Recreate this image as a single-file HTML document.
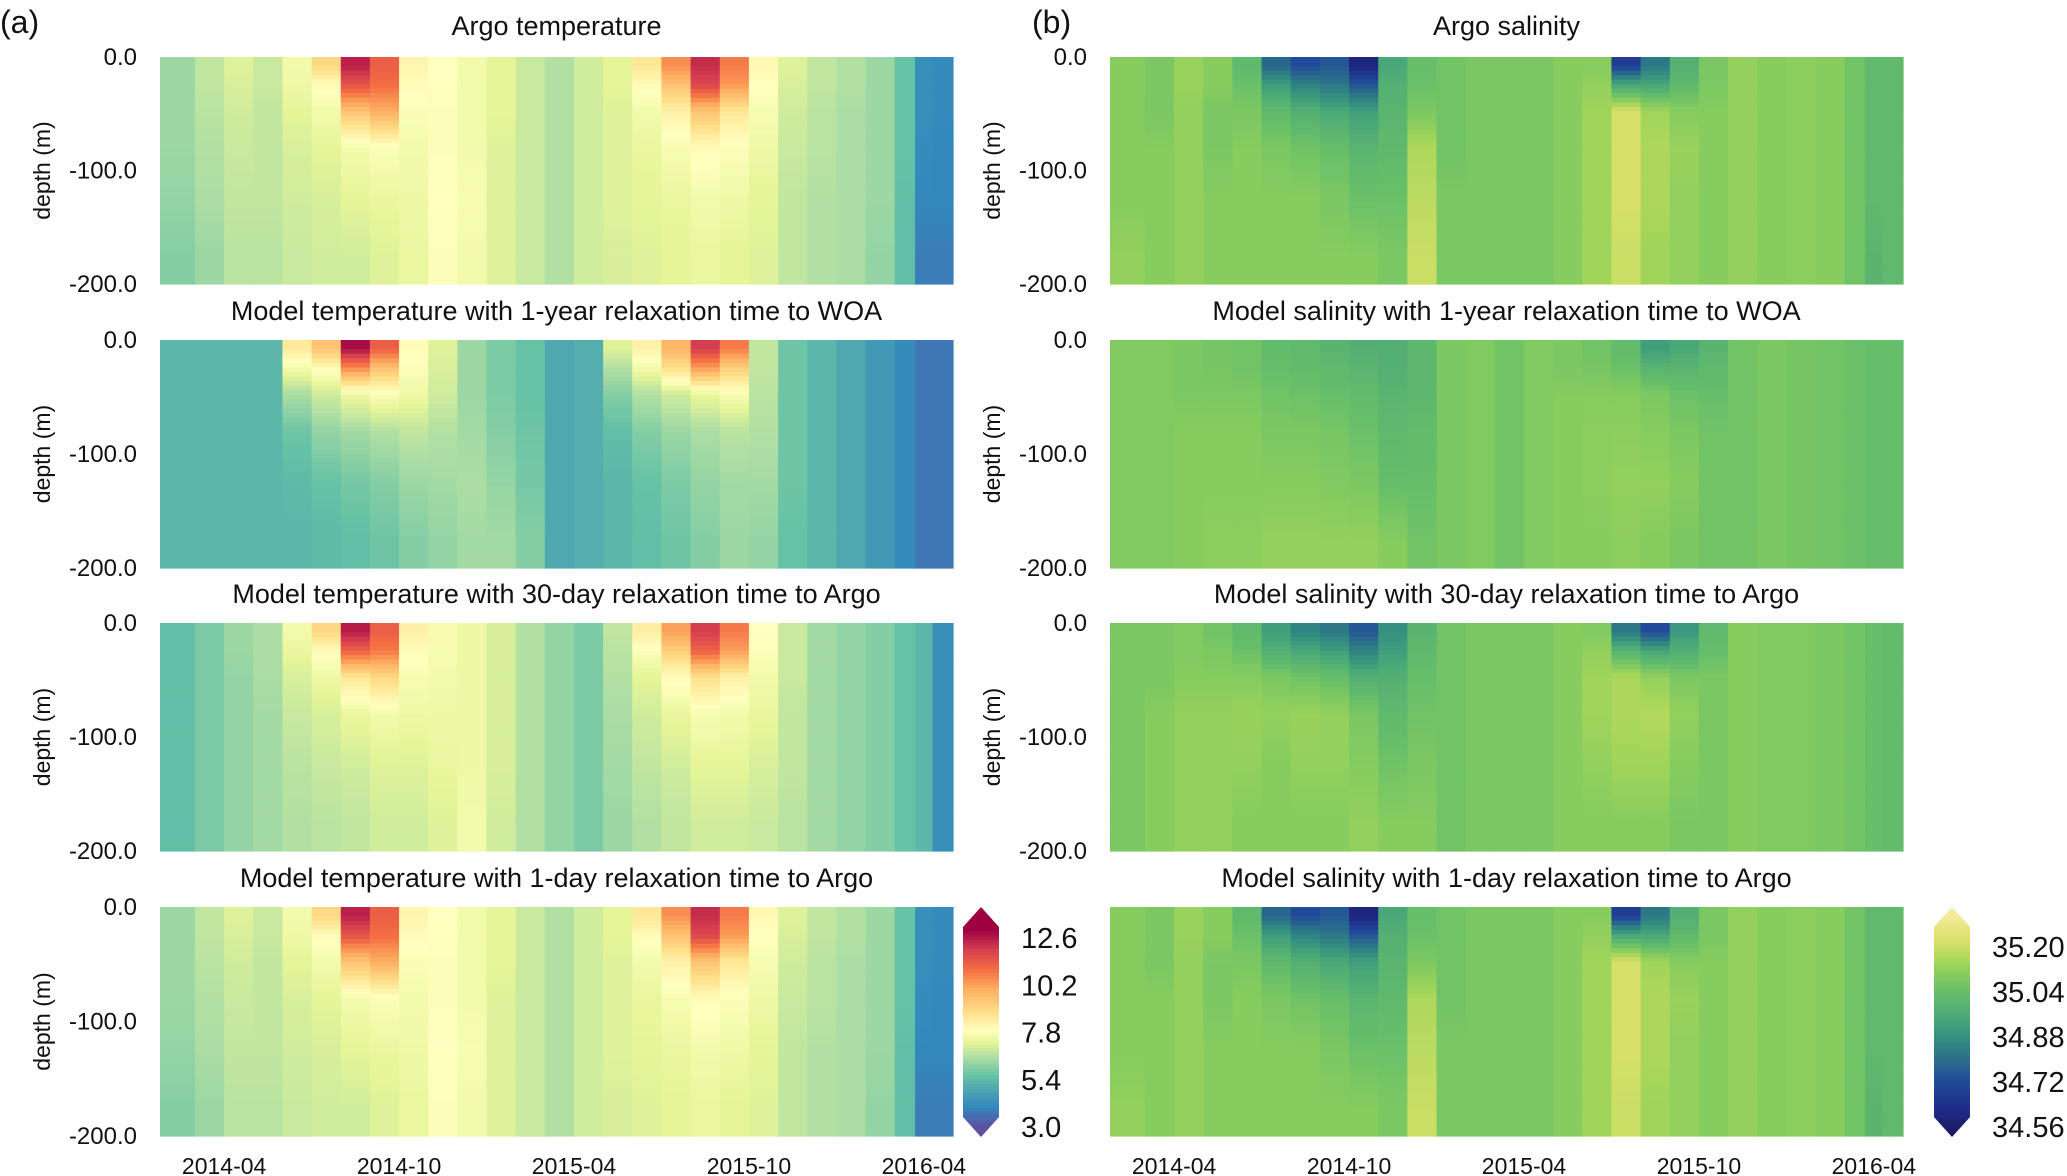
<!DOCTYPE html>
<html><head><meta charset="utf-8">
<style>
html,body{margin:0;padding:0;background:#fff;}
svg{display:block;font-family:"Liberation Sans",Arial,sans-serif;}
</style></head>
<body>
<svg id="fig" width="2067" height="1176" viewBox="0 0 2067 1176" xmlns="http://www.w3.org/2000/svg"></svg>
<script>
// ---- shared axis data ----
const tEdges = [0.8,2,3,4,5,6,7,8,9,10,11,12,13,14,15,16,17,18,19,20,21,22,23,24,25,26,26.7,27.3,28];
const dEdges = [0,15,35,60,100,150,200];
const xTickLabels = ["2014-04","2014-10","2015-04","2015-10","2016-04"];
const xTickVals = [3,9,15,21,27];
const yTickLabels = ["0.0","-100.0","-200.0"];
const yTickVals = [0,100,200];
const tempCbTicks = [12.6,10.2,7.8,5.4,3.0];
const tempCbLabels = ["12.6","10.2","7.8","5.4","3.0"];
const salCbTicks = [35.20,35.04,34.88,34.72,34.56];
const salCbLabels = ["35.20","35.04","34.88","34.72","34.56"];

// ---- temperature data (columns x depth bins) ----
const tempArgo = [
[6.3,6.3,6.3,6.3,6.2,6.0],[6.8,6.8,6.7,6.6,6.5,6.3],[7.2,7.1,7.0,6.9,6.8,6.7],[6.9,6.9,6.8,6.8,6.8,6.7],
[7.6,7.5,7.3,7.1,7.0,6.9],[9.0,8.0,7.6,7.3,7.1,7.0],[12.5,11.5,9.5,7.6,7.3,7.0],[11.3,11.0,10.0,7.8,7.4,7.2],
[8.2,8.0,7.8,7.6,7.5,7.4],[7.9,7.9,7.8,7.8,7.9,7.8],[7.6,7.6,7.6,7.6,7.7,7.6],[7.3,7.3,7.3,7.2,7.2,7.2],
[6.9,6.9,6.9,6.9,6.9,6.9],[6.6,6.6,6.6,6.6,6.6,6.6],[7.0,7.0,7.0,7.0,7.0,7.0],[7.3,7.3,7.2,7.2,7.2,7.1],
[8.6,8.0,7.6,7.4,7.3,7.2],[10.5,9.5,8.3,7.7,7.4,7.3],[12.3,11.8,9.5,8.0,7.6,7.4],[10.8,10.3,8.6,7.8,7.5,7.3],
[8.1,7.9,7.7,7.5,7.3,7.2],[7.2,7.1,7.0,6.9,6.8,6.8],[6.8,6.8,6.7,6.7,6.6,6.6],[6.6,6.6,6.5,6.5,6.5,6.5],
[6.3,6.3,6.3,6.3,6.3,6.2],[5.6,5.6,5.6,5.6,5.5,5.5],[4.2,4.2,4.2,4.1,4.0,3.8],[4.1,4.1,4.1,4.0,4.0,3.8]];
const tempWoa = [
[5.3,5.3,5.3,5.3,5.3,5.3],[5.3,5.3,5.3,5.3,5.3,5.3],[5.3,5.3,5.3,5.3,5.3,5.3],[5.3,5.3,5.3,5.3,5.3,5.3],
[8.5,7.6,6.5,5.7,5.4,5.3],[9.5,8.0,7.0,6.2,5.6,5.4],[12.8,10.5,7.5,6.4,5.8,5.5],[11.3,9.5,7.8,6.6,6.0,5.7],
[8.0,7.8,7.5,6.8,6.3,6.0],[7.2,7.1,7.0,6.6,6.4,6.2],[6.3,6.3,6.3,6.4,6.5,6.4],[5.9,5.9,5.9,6.0,6.2,6.4],
[5.6,5.6,5.6,5.7,5.8,6.0],[4.9,4.9,4.9,4.9,4.9,4.9],[5.1,5.1,5.1,5.1,5.1,5.1],[7.2,6.6,6.0,5.5,5.3,5.3],
[8.3,7.6,6.6,6.0,5.6,5.5],[9.8,8.8,7.0,6.3,5.9,5.7],[12.0,10.2,7.4,6.5,6.2,6.0],[10.8,9.2,7.7,6.7,6.4,6.3],
[6.8,6.8,6.7,6.6,6.4,6.2],[5.7,5.7,5.7,5.7,5.7,5.6],[5.3,5.3,5.3,5.3,5.3,5.3],[4.9,4.9,4.9,4.9,4.9,4.9],
[4.5,4.5,4.5,4.5,4.5,4.5],[4.1,4.1,4.1,4.1,4.1,4.1],[3.7,3.7,3.7,3.7,3.7,3.7],[3.7,3.7,3.7,3.7,3.7,3.7]];
const temp30 = [
[5.5,5.5,5.5,5.5,5.5,5.5],[5.9,5.9,5.9,5.9,5.9,5.9],[6.3,6.3,6.2,6.2,6.2,6.2],[6.5,6.5,6.5,6.4,6.4,6.4],
[7.6,7.4,7.1,6.9,6.7,6.6],[9.0,8.0,7.5,7.1,6.9,6.7],[12.6,11.2,8.6,7.4,7.0,6.8],[11.3,10.8,9.0,7.6,7.2,7.0],
[8.3,8.0,7.7,7.5,7.2,7.0],[7.7,7.7,7.6,7.5,7.4,7.2],[7.5,7.5,7.5,7.5,7.5,7.6],[7.1,7.1,7.1,7.1,7.1,7.0],
[6.6,6.6,6.6,6.6,6.6,6.6],[6.2,6.2,6.2,6.2,6.2,6.2],[5.9,5.9,5.9,5.9,5.9,5.9],[6.8,6.7,6.6,6.5,6.4,6.3],
[8.4,7.8,7.3,7.0,6.8,6.6],[10.2,9.2,8.0,7.4,7.0,6.8],[12.0,11.2,8.8,7.7,7.3,7.0],[10.8,10.2,8.3,7.6,7.3,7.0],
[7.9,7.8,7.6,7.4,7.1,6.9],[6.9,6.9,6.9,6.8,6.8,6.7],[6.4,6.4,6.4,6.4,6.4,6.4],[6.2,6.2,6.2,6.2,6.2,6.2],
[6.0,6.0,6.0,6.0,6.0,6.0],[5.6,5.6,5.6,5.6,5.6,5.6],[5.3,5.3,5.3,5.3,5.3,5.3],[4.2,4.2,4.2,4.2,4.2,4.2]];
const temp1d = tempArgo;

// ---- salinity data ----
const salArgo = [
[35.10,35.10,35.10,35.10,35.10,35.12],[35.08,35.08,35.08,35.10,35.10,35.10],[35.13,35.13,35.12,35.12,35.12,35.12],[35.10,35.10,35.08,35.08,35.10,35.10],
[35.02,35.05,35.08,35.10,35.10,35.10],[34.78,34.92,35.02,35.08,35.10,35.10],[34.72,34.85,34.98,35.06,35.10,35.10],[34.75,34.82,34.95,35.04,35.08,35.10],
[34.60,34.75,34.92,35.00,35.05,35.10],[34.95,34.98,35.00,35.02,35.05,35.08],[35.04,35.05,35.08,35.16,35.18,35.20],[35.06,35.06,35.06,35.06,35.08,35.08],
[35.08,35.08,35.08,35.08,35.08,35.08],[35.08,35.08,35.08,35.08,35.08,35.08],[35.08,35.08,35.08,35.08,35.08,35.08],[35.10,35.10,35.10,35.10,35.10,35.10],
[35.10,35.12,35.14,35.14,35.14,35.14],[34.68,34.95,35.22,35.22,35.22,35.20],[34.82,34.95,35.14,35.16,35.16,35.14],[34.98,35.02,35.10,35.13,35.12,35.12],
[35.08,35.08,35.10,35.10,35.10,35.10],[35.12,35.12,35.12,35.12,35.12,35.12],[35.10,35.10,35.10,35.10,35.10,35.10],[35.11,35.11,35.11,35.11,35.11,35.11],
[35.10,35.10,35.10,35.10,35.10,35.10],[35.06,35.06,35.06,35.06,35.06,35.06],[35.02,35.02,35.02,35.02,35.02,35.00],[35.02,35.02,35.02,35.02,35.02,35.02]];
const salWoa = [
[35.09,35.09,35.09,35.09,35.09,35.09],[35.09,35.09,35.09,35.09,35.09,35.09],[35.08,35.08,35.08,35.10,35.10,35.10],[35.07,35.07,35.08,35.10,35.10,35.11],
[35.06,35.06,35.08,35.10,35.10,35.11],[35.03,35.04,35.06,35.08,35.10,35.12],[35.02,35.03,35.05,35.08,35.10,35.12],[35.00,35.02,35.04,35.07,35.09,35.12],
[34.98,35.00,35.03,35.05,35.08,35.12],[34.98,34.98,35.00,35.02,35.04,35.10],[35.01,35.01,35.01,35.03,35.04,35.06],[35.08,35.08,35.08,35.08,35.08,35.08],
[35.09,35.09,35.09,35.09,35.09,35.09],[35.06,35.06,35.06,35.06,35.06,35.06],[35.09,35.09,35.09,35.09,35.09,35.09],[35.08,35.08,35.10,35.10,35.10,35.10],
[35.06,35.07,35.10,35.11,35.11,35.10],[35.03,35.05,35.10,35.11,35.12,35.11],[34.92,35.00,35.08,35.10,35.12,35.10],[34.95,35.00,35.05,35.08,35.10,35.08],
[35.00,35.02,35.04,35.06,35.06,35.06],[35.06,35.06,35.06,35.06,35.06,35.06],[35.08,35.08,35.08,35.08,35.08,35.08],[35.07,35.07,35.07,35.07,35.07,35.07],
[35.06,35.06,35.06,35.06,35.06,35.06],[35.05,35.05,35.05,35.05,35.05,35.05],[35.04,35.04,35.04,35.04,35.04,35.04],[35.04,35.04,35.04,35.04,35.04,35.04]];
const sal30 = [
[35.08,35.08,35.08,35.08,35.08,35.08],[35.08,35.08,35.08,35.10,35.10,35.10],[35.09,35.09,35.10,35.12,35.12,35.12],[35.06,35.08,35.10,35.12,35.12,35.12],
[35.02,35.05,35.10,35.13,35.12,35.10],[34.92,34.98,35.08,35.12,35.10,35.10],[34.85,34.95,35.06,35.13,35.12,35.10],[34.82,34.92,35.04,35.12,35.12,35.10],
[34.75,34.85,34.98,35.08,35.10,35.12],[34.88,34.92,34.98,35.02,35.06,35.10],[35.00,35.02,35.04,35.06,35.08,35.10],[35.06,35.06,35.06,35.06,35.06,35.06],
[35.08,35.08,35.08,35.08,35.08,35.08],[35.08,35.08,35.08,35.08,35.08,35.08],[35.08,35.08,35.08,35.08,35.08,35.08],[35.10,35.10,35.10,35.10,35.10,35.10],
[35.09,35.12,35.14,35.14,35.12,35.10],[34.82,35.00,35.16,35.16,35.14,35.10],[34.72,34.95,35.12,35.17,35.14,35.10],[34.90,34.98,35.08,35.12,35.10,35.08],
[35.02,35.04,35.08,35.08,35.08,35.08],[35.10,35.10,35.10,35.10,35.10,35.10],[35.09,35.09,35.09,35.09,35.09,35.09],[35.09,35.09,35.09,35.09,35.09,35.09],
[35.08,35.08,35.08,35.08,35.08,35.08],[35.06,35.06,35.06,35.06,35.06,35.06],[35.04,35.04,35.04,35.04,35.04,35.04],[35.03,35.03,35.03,35.03,35.03,35.03]];
const sal1d = salArgo;

// ---- colormaps ----
const tempStops=[[3.0,"#5e4fa2"],[4.0,"#3288bd"],[5.0,"#52aaae"],[5.6,"#66c2a5"],[6.5,"#abdda4"],[7.3,"#e6f598"],[7.9,"#ffffbf"],[8.8,"#fee08b"],[10.0,"#fdae61"],[11.0,"#f46d43"],[12.0,"#d53e4f"],[13.0,"#9e0142"]];
const salStops=[[34.50,"#1b1250"],[34.62,"#1f2a86"],[34.72,"#214a9a"],[34.80,"#2a6f8a"],[34.88,"#35907f"],[34.95,"#4aa878"],[35.04,"#66be6a"],[35.10,"#86cc5f"],[35.15,"#a6d65a"],[35.22,"#d8e06a"],[35.32,"#f7e9a0"]];
function hex(c){return [1,3,5].map(i=>parseInt(c.substr(i,2),16));}
function cmap(stops,v){
  if(v<=stops[0][0])return stops[0][1];
  for(let i=1;i<stops.length;i++){
    if(v<=stops[i][0]){
      const a=hex(stops[i-1][1]),b=hex(stops[i][1]);
      const f=(v-stops[i-1][0])/(stops[i][0]-stops[i-1][0]);
      return "rgb("+a.map((x,k)=>Math.round(x+(b[k]-x)*f)).join(",")+")";
    }
  }
  return stops[stops.length-1][1];
}

const NS="http://www.w3.org/2000/svg";
const svg=document.getElementById("fig");
function mk(tag,attrs,parent){const e=document.createElementNS(NS,tag);for(const k in attrs)e.setAttribute(k,attrs[k]);(parent||svg).appendChild(e);return e;}

const rowsY=[[57,284],[340,568],[623,851],[907,1136]];
const colsX=[[160,953],[1110,1903]];
const titles=[["Argo temperature","Model temperature with 1-year relaxation time to WOA","Model temperature with 30-day relaxation time to Argo","Model temperature with 1-day relaxation time to Argo"],
["Argo salinity","Model salinity with 1-year relaxation time to WOA","Model salinity with 30-day relaxation time to Argo","Model salinity with 1-day relaxation time to Argo"]];
const datasets=[[tempArgo,tempWoa,temp30,temp1d],[salArgo,salWoa,sal30,sal1d]];
const stopsFor=[tempStops,salStops];
const dCenters=dEdges.slice(0,-1).map((d,j)=>(d+dEdges[j+1])/2);
function valAtDepth(col,d){
  if(d<=dCenters[0])return col[0];
  for(let j=1;j<dCenters.length;j++){
    if(d<=dCenters[j]){const f=(d-dCenters[j-1])/(dCenters[j]-dCenters[j-1]);return col[j-1]+(col[j]-col[j-1])*f;}
  }
  return col[col.length-1];
}

for(let c=0;c<2;c++){
  const [x0,x1]=colsX[c];
  const xs=t=>x0+(t-0.8)/(28-0.8)*(x1-x0);
  for(let r=0;r<4;r++){
    const [y0,y1]=rowsY[r];
    const ys=d=>y0+d/200*(y1-y0);
    const g=mk("g",{});
    
    
    const data=datasets[c][r];
    const step=4;
    for(let i=0;i<data.length;i++){
      const xa=xs(tEdges[i]), xb=xs(tEdges[i+1]);
      for(let d=0;d<200;d+=step){
        const rect=mk("rect",{x:xa.toFixed(2),y:ys(d).toFixed(2),width:(xb-xa+0.6).toFixed(2),height:(ys(d+step)-ys(d)+0.6).toFixed(2),fill:cmap(stopsFor[c],valAtDepth(data[i],d+step/2))},g);
        
        
      }
    }
    const tt=mk("text",{x:(x0+x1)/2,y:(r===0?26:rowsY[r][0]-29)+9,"text-anchor":"middle","font-size":"27",fill:"#111"});
    tt.textContent=titles[c][r];
    
    
    if(!(c===1&&r===3)){
      for(let k=0;k<yTickVals.length;k++){
        const yt=mk("text",{x:x0-23,y:ys(yTickVals[k])+8,"text-anchor":"end","font-size":"24",fill:"#111"});
        yt.textContent=yTickLabels[k];
        
        
      }
    }
    const yl=mk("text",{transform:"translate("+(x0-110)+","+((y0+y1)/2)+") rotate(-90)","text-anchor":"middle","font-size":"23",fill:"#111"});
    yl.textContent="depth (m)";
    
    
  }
  for(let k=0;k<xTickVals.length;k++){
    const xt=mk("text",{x:xs(xTickVals[k]),y:1174,"text-anchor":"middle","font-size":"23",fill:"#111"});
    xt.textContent=xTickLabels[k];
    
    
  }
}
const la=mk("text",{x:0,y:33,"font-size":"32",fill:"#111"});la.textContent="(a)";


const lb=mk("text",{x:1032,y:33,"font-size":"32",fill:"#111"});lb.textContent="(b)";



// ---- colorbars ----
function colorbar(x,w,top,bot,stops,ticks,labels,vTopLabel,yTopLabel,vBotLabel,yBotLabel,name){
  const g=mk("g",{});
  
  
  mk("rect",{x:x-6,y:top-4,width:150,height:bot-top+8,fill:"#fff"},g);
  const id=name+"-clip";
  const cp=mk("clipPath",{id:id},g);
  const tri=20;
  mk("polygon",{points:`${x+w/2},${top} ${x+w},${top+tri} ${x+w},${bot-tri} ${x+w/2},${bot} ${x},${bot-tri} ${x},${top+tri}`},cp);
  const gg=mk("g",{"clip-path":"url(#"+id+")"},g);
  const vy=v=>yBotLabel+(v-vBotLabel)/(vTopLabel-vBotLabel)*(yTopLabel-yBotLabel);
  const yv=y=>vBotLabel+(y-yBotLabel)/(yTopLabel-yBotLabel)*(vTopLabel-vBotLabel);
  for(let y=top;y<bot;y+=3){
    mk("rect",{x:x,y:y,width:w,height:3.5,fill:cmap(stops,yv(y+1.5))},gg);
  }
  for(let k=0;k<ticks.length;k++){
    const t=mk("text",{x:x+w+22,y:vy(ticks[k])+10,"font-size":"29",fill:"#111"},g);
    t.textContent=labels[k];
    
    
  }
}
colorbar(963,36,907,1137,tempStops,tempCbTicks,tempCbLabels,12.6,938,3.0,1127,"temperature-colorbar");
colorbar(1934,36,907,1137,salStops,salCbTicks,salCbLabels,35.20,947,34.56,1127,"salinity-colorbar");
</script>
</body></html>
